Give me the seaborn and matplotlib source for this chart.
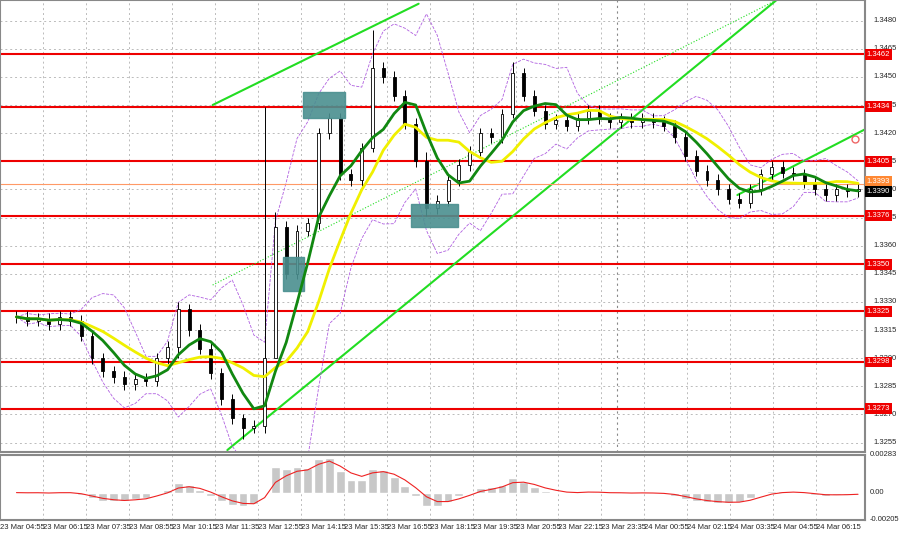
import numpy as np
import pandas as pd
import matplotlib
matplotlib.use("Agg")
import matplotlib.pyplot as plt
import seaborn as sns
from matplotlib.patches import Rectangle

sns.set_theme(style="white")
plt.rcParams['font.family'] = ['Liberation Sans', 'DejaVu Sans']

# closes of (coarse) candles, one every 11 px
closes = [1.3322, 1.3320, 1.3321, 1.3318, 1.3322, 1.3320, 1.3312, 1.3300, 1.3293, 1.3290,
          1.3286, 1.3289, 1.3288, 1.3300, 1.3306, 1.3326, 1.3315, 1.3305, 1.3292, 1.3278,
          1.3268, 1.3263, 1.3264, 1.3300, 1.3370, 1.3345, 1.3368, 1.3372, 1.3420, 1.3428,
          1.3398, 1.3395, 1.3412, 1.3455, 1.3450, 1.3440, 1.3425, 1.3405, 1.3380, 1.3384,
          1.3395, 1.3403, 1.3410, 1.3420, 1.3418, 1.3430, 1.3452, 1.3440, 1.3432, 1.3425,
          1.3427, 1.3424, 1.3428, 1.3432, 1.3428, 1.3426, 1.3428, 1.3426, 1.3428, 1.3426,
          1.3424, 1.3418, 1.3408, 1.3400, 1.3395, 1.3390, 1.3385, 1.3383, 1.3390, 1.3398,
          1.3402, 1.3399, 1.3398, 1.3394, 1.3390, 1.3387, 1.3390, 1.3389, 1.3390]
# extra wicks (index: (high, low))
wicks = {15: (1.3330, 1.3300), 23: (1.3434, 1.3260), 24: (1.3378, 1.3310),
         33: (1.3475, 1.3410), 38: (1.3410, 1.3376), 46: (1.3458, 1.3428), 21: (1.3270, 1.3257)}

levels = [1.3462, 1.3434, 1.3405, 1.3376, 1.3350, 1.3325, 1.3298, 1.3273]
price_ticks = [1.3480, 1.3465, 1.3450, 1.3435, 1.3420, 1.3405, 1.3390, 1.3375, 1.3360,
               1.3345, 1.3330, 1.3315, 1.3300, 1.3285, 1.3270, 1.3255]
time_labels = ["23 Mar 04:55", "23 Mar 06:15", "23 Mar 07:35", "23 Mar 08:55", "23 Mar 10:15",
               "23 Mar 11:35", "23 Mar 12:55", "23 Mar 14:15", "23 Mar 15:35", "23 Mar 16:55",
               "23 Mar 18:15", "23 Mar 19:35", "23 Mar 20:55", "23 Mar 22:15", "23 Mar 23:35",
               "24 Mar 00:55", "24 Mar 02:15", "24 Mar 03:35", "24 Mar 04:55", "24 Mar 06:15"]

step = 11
df = pd.DataFrame({"close": closes})
df["x"] = df.index * step
df["open"] = df["close"].shift(1).fillna(df["close"].iloc[0])
df["high"] = df[["open", "close"]].max(axis=1) + 0.0003
df["low"] = df[["open", "close"]].min(axis=1) - 0.0003
for i, (h, l) in wicks.items():
    df.loc[i, "high"] = h
    df.loc[i, "low"] = l
df["ma_fast"] = df["close"].rolling(5, min_periods=1).mean()
df["ma_slow"] = df["close"].rolling(9, min_periods=1).mean()
mid = df["close"].rolling(6, min_periods=1).mean()
sd = df["close"].rolling(6, min_periods=1).std().fillna(0)
df["bb_up"] = mid + 2 * sd
df["bb_dn"] = mid - 2 * sd
macd = df["close"].ewm(span=3).mean() - df["close"].ewm(span=6).mean()
sig = macd.ewm(span=3).mean()

fig = plt.figure(figsize=(9, 5.38), dpi=100)
ax = fig.add_axes([0.0, 0.160, 0.961, 0.840])
ax2 = fig.add_axes([0.0, 0.0335, 0.961, 0.121], sharex=ax)
lo, hi = 1.3250, 1.3491

for a in (ax, ax2):
    for s in a.spines.values():
        s.set_color("#888888")
        s.set_linewidth(1.5)

tick_x = [27 + 43.8 * (k - 1) for k in range(len(time_labels))]
for a in (ax, ax2):
    for tx in tick_x:
        a.axvline(tx, color="#bbbbbb", ls=(0, (2, 3)), lw=0.7, zorder=0)
for p in price_ticks:
    ax.axhline(p, color="#bbbbbb", ls=(0, (2, 3)), lw=0.7, zorder=0)
ax.axvline(612, color="#888888", ls=(0, (2, 3)), lw=0.8, zorder=0)

for lv in levels:
    ax.axhline(lv, color="#ee0000", lw=1.5, zorder=1)

# channel lines
ax.plot([215, 775], [1.3251, 1.3491], color="#22dd22", lw=1.5, zorder=2)
ax.plot([200, 410], [1.3435, 1.3489], color="#22dd22", lw=1.5, zorder=2)
ax.plot([200, 775], [1.3339, 1.3491], color="#22dd22", lw=0.8, ls=":", zorder=2)
ax.plot([735, 865], [1.3387, 1.3422], color="#22dd22", lw=1.5, zorder=2)
ax.plot([855], [1.3417], "o", mfc="none", mec="#ee6666", ms=5)

for (x0, x1, p0, p1) in [(292, 335, 1.3428, 1.3442), (272, 293, 1.3336, 1.3354), (402, 450, 1.3370, 1.3382)]:
    ax.add_patch(Rectangle((x0, p0), x1 - x0, p1 - p0, color="#4a8f8f", alpha=0.9, zorder=4))

# candles
for _, r in df.iterrows():
    ax.vlines(r["x"], r["low"], r["high"], color="black", lw=0.7, zorder=3)
    fc = "white" if r["close"] >= r["open"] else "black"
    ax.add_patch(Rectangle((r["x"] - 1.5, min(r["open"], r["close"])), 3,
                           max(abs(r["close"] - r["open"]), 0.00004),
                           facecolor=fc, edgecolor="black", lw=0.6, zorder=3))

sns.lineplot(data=df, x="x", y="bb_up", ax=ax, color="#b060e0", lw=0.6, ls="--", zorder=2)
sns.lineplot(data=df, x="x", y="bb_dn", ax=ax, color="#b060e0", lw=0.6, ls="--", zorder=2)
sns.lineplot(data=df, x="x", y="ma_slow", ax=ax, color="#f0f000", lw=2, zorder=5)
sns.lineplot(data=df, x="x", y="ma_fast", ax=ax, color="#118811", lw=2, zorder=5)

ax.set_xlim(0, 865)
ax.set_ylim(lo, hi)
ax.set_xlabel("")
ax.set_ylabel("")
ax.tick_params(labelbottom=False, labelleft=False, left=False, bottom=False)

fs = 5.5
tr = ax.get_yaxis_transform()
for p in price_ticks:
    ax.text(1.010, p, f"{p:.4f}", transform=tr, fontsize=fs, va="center", ha="left")
for lv in levels:
    ax.text(1.002, lv, f"{lv:.4f}", transform=tr, fontsize=fs, va="center", ha="left",
            color="white", bbox=dict(boxstyle="square,pad=0.25", fc="#ee0000", ec="none"))
ax.axhline(1.3393, color="#ff9966", lw=0.8)
ax.text(1.002, 1.3394, "1.3393", transform=tr, fontsize=fs, va="center", ha="left",
        color="white", bbox=dict(boxstyle="square,pad=0.25", fc="#ff8833", ec="none"))
ax.text(1.002, 1.3389, "1.3390", transform=tr, fontsize=fs, va="center", ha="left",
        color="white", bbox=dict(boxstyle="square,pad=0.25", fc="black", ec="none"))

ax2.bar(df["x"], macd, width=9, color="#c8c8c8", zorder=2)
ax2.plot(df["x"], sig, color="#ee2222", lw=0.8, zorder=3)
ax2.set_ylim(-0.00205, 0.00283)
ax2.set_yticks([])
ax2.set_xticks(tick_x)
ax2.set_xticklabels(time_labels, fontsize=fs, ha="left")
ax2.tick_params(axis="x", length=0, pad=3)
tr2 = ax2.get_yaxis_transform()
for v, t in [(0.00283, "0.00283"), (0.0, "0.00"), (-0.00205, "-0.00205")]:
    ax2.text(1.006, v, t, transform=tr2, fontsize=fs, va="center", ha="left")

fig.savefig("out.png", dpi=100)
